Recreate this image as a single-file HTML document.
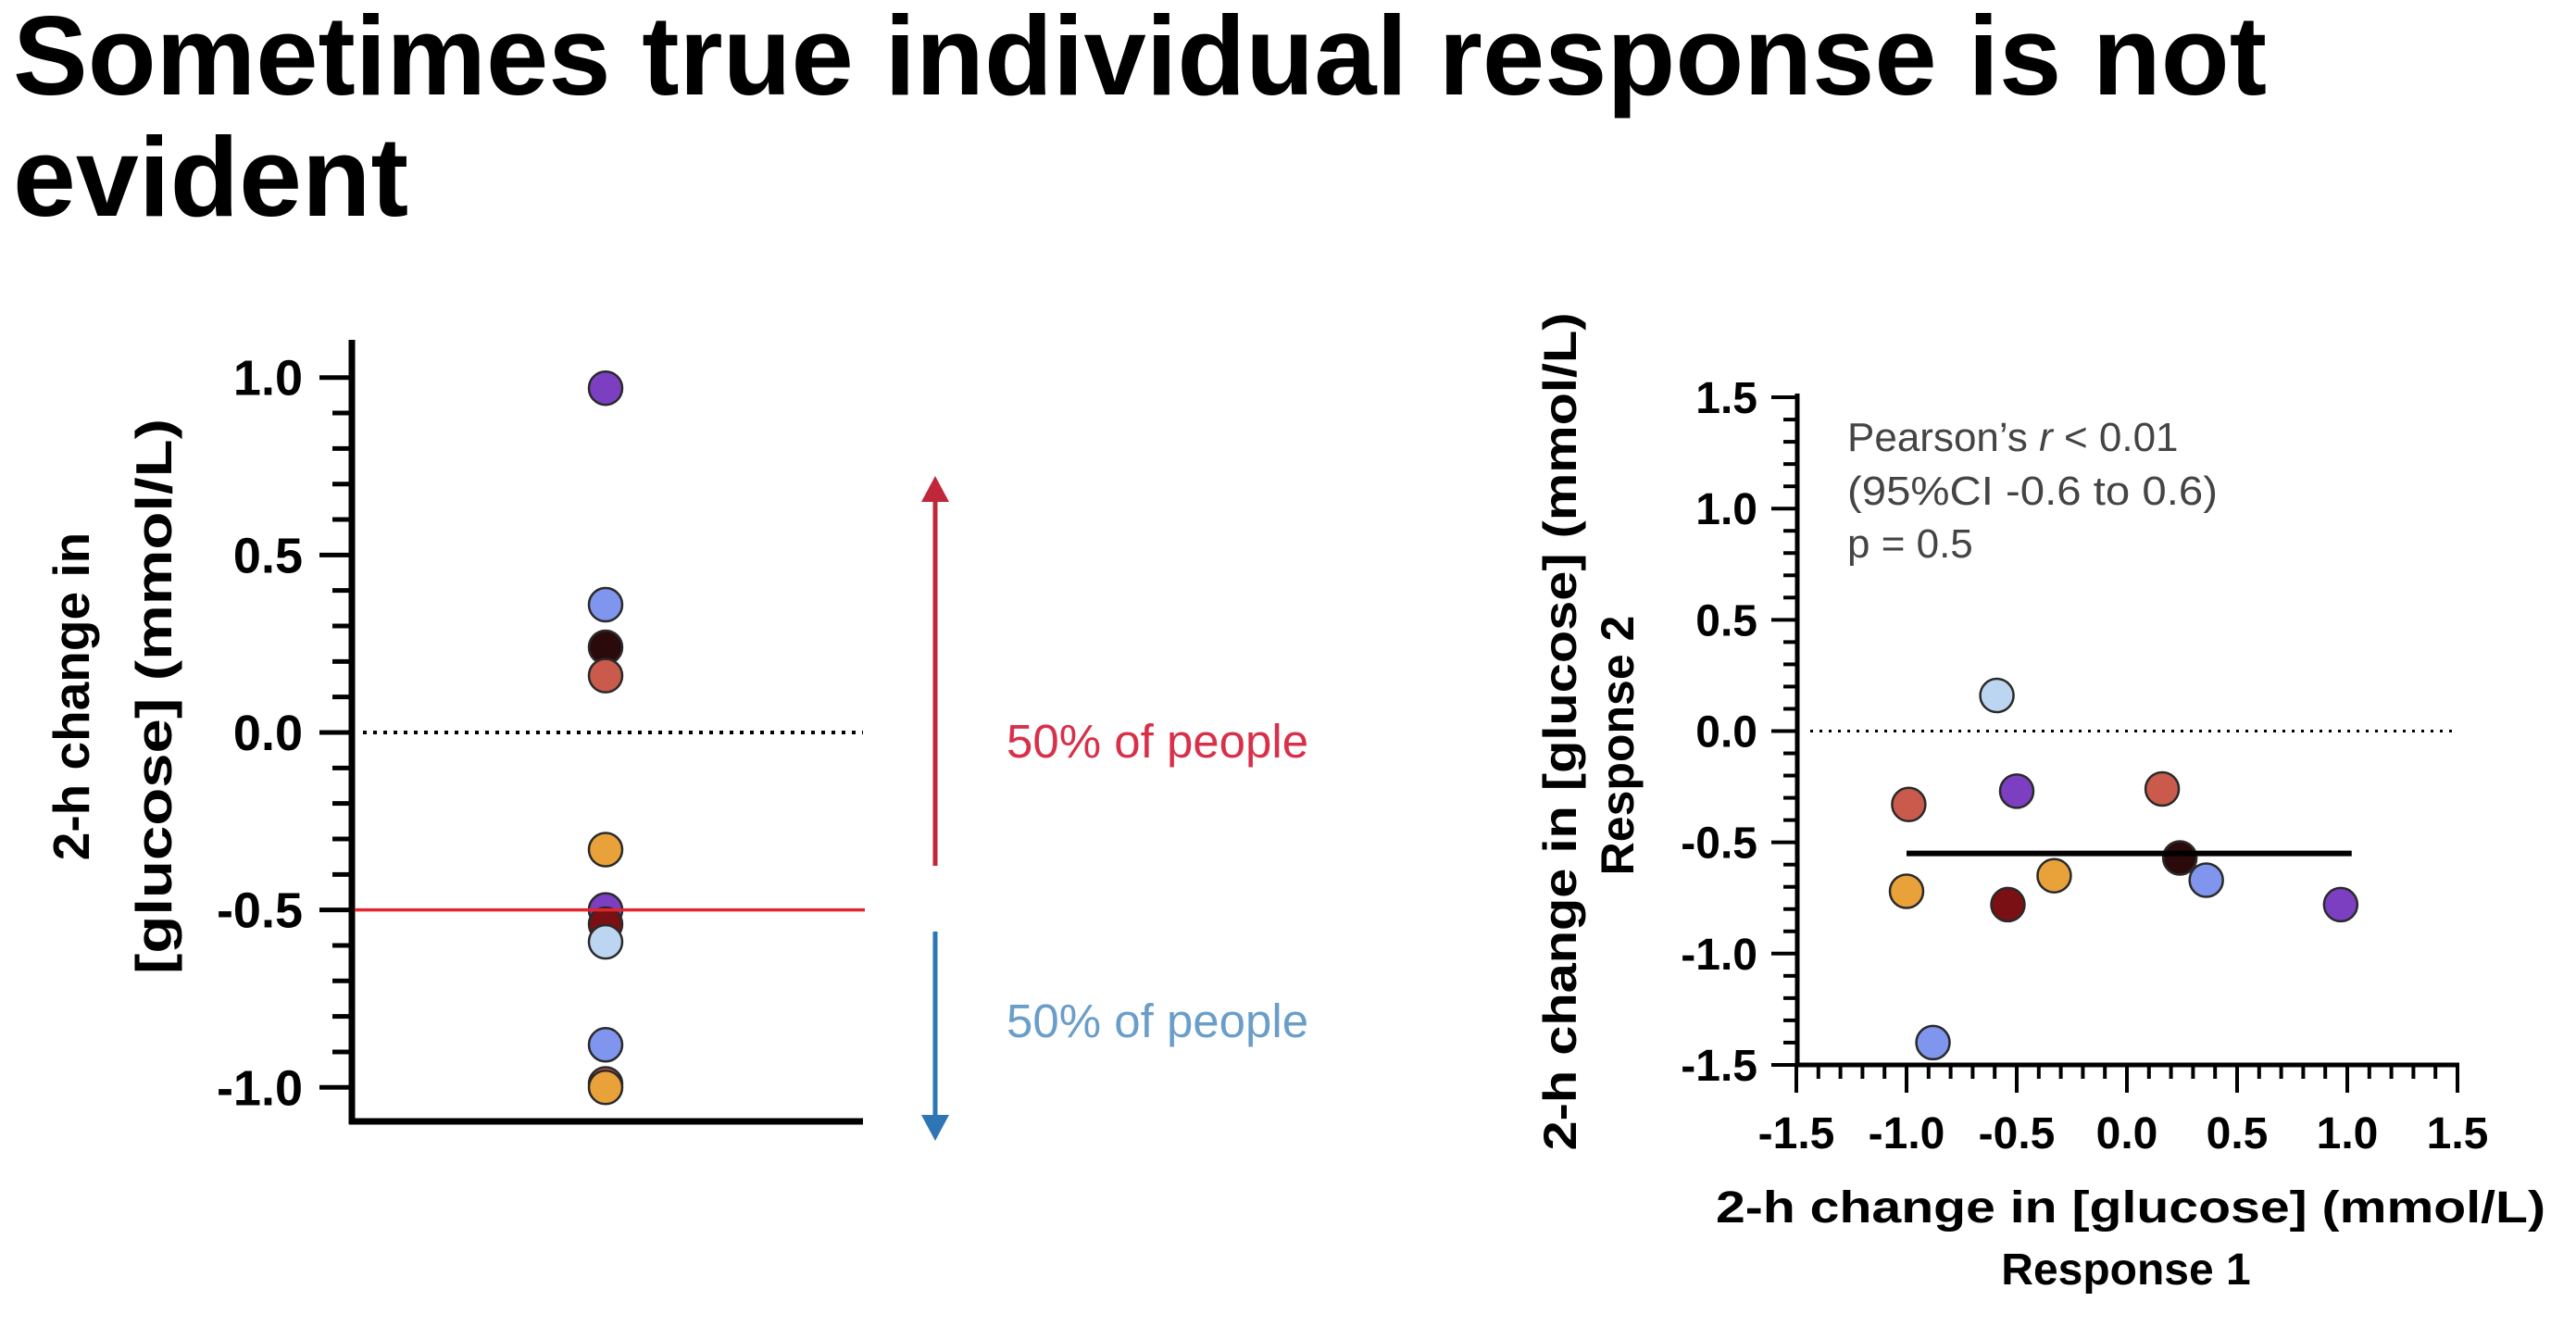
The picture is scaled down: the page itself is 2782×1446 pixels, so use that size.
<!DOCTYPE html>
<html><head><meta charset="utf-8"><style>
html,body{margin:0;padding:0;background:#fff;}
svg{display:block;font-family:"Liberation Sans",Arial,sans-serif;}
</style></head><body>
<svg id="root" width="2782" height="1446" viewBox="0 0 2782 1446" xmlns="http://www.w3.org/2000/svg">
<text x="14" y="102" font-size="122" font-weight="bold" fill="#000" textLength="2434" lengthAdjust="spacingAndGlyphs">Sometimes true individual response is not</text>
<text x="14" y="233" font-size="122" font-weight="bold" fill="#000">evident</text>

<g id="left"></g>
<g id="right"></g>

<g>
<line x1="1010" y1="935" x2="1010" y2="540" stroke="#c0273a" stroke-width="5"/>
<polygon points="1010,514 995,542 1025,542" fill="#c0273a"/>
<text x="1087" y="818" font-size="51" fill="#d9304a">50% of people</text>
</g>
<g>
<line x1="1010" y1="1006" x2="1010" y2="1208" stroke="#2e75b6" stroke-width="5"/>
<polygon points="1010,1232 995,1204 1025,1204" fill="#2e75b6"/>
<text x="1087" y="1120" font-size="51" fill="#6a9ec9">50% of people</text>
</g>
</svg>
<script>
const participants = ["P1","P2","P3","P4","P5","P6","P7","P8","P9","P10","P11"];
const response1 = [0.97, 0.36, 0.24, 0.16, -0.33, -0.50, -0.54, -0.59, -0.88, -0.99, -1.00];
const response2 = [-0.78, -0.67, -0.57, -0.26, -0.65, -0.27, -0.78, 0.16, -1.40, -0.33, -0.72];
const colors = ["#7d3fc2","#7f95ee","#2b0a0c","#c95a4c","#e9a23a","#7d3fc2","#7a1014","#bcd6f2","#7f95ee","#c95a4c","#e9a23a"];
const leftTicks = [1.0, 0.5, 0.0, -0.5, -1.0];
const leftTickLabels = ["1.0","0.5","0.0","-0.5","-1.0"];
const rightTicks = [-1.5,-1.0,-0.5,0.0,0.5,1.0,1.5];
const rightTickLabels = ["-1.5","-1.0","-0.5","0.0","0.5","1.0","1.5"];
const medianValue = -0.5;
const fitY = -0.55;
const fitXRange = [-1.0, 1.02];

const NS = "http://www.w3.org/2000/svg";
function mk(parent, tag, attrs, text){
  const e = document.createElementNS(NS, tag);
  for (const k in attrs) e.setAttribute(k, attrs[k]);
  if (text !== undefined) e.textContent = text;
  parent.appendChild(e);
  return e;
}

// ---------- Left dot plot ----------
const L = document.getElementById('left');
const ly = v => 791 - 383.3 * v;
const lAxisX = 380, lX0 = 380, lX1 = 932, lDotX = 654;
let e;
e = mk(L,'line',{x1:lAxisX,y1:367,x2:lAxisX,y2:1214,stroke:'#000','stroke-width':7});


e = mk(L,'line',{x1:lX0-3,y1:1211,x2:lX1,y2:1211,stroke:'#000','stroke-width':7});


for (let i = 10; i >= -10; i--) {
  const v = i / 10;
  const major = (i % 5 === 0);
  e = mk(L,'line',{x1:lAxisX-(major?35:21),y1:ly(v),x2:lAxisX,y2:ly(v),stroke:'#000','stroke-width':5});
  
  
}
leftTicks.forEach((v,i)=>{
  e = mk(L,'text',{x:327,y:ly(v)+19,'font-size':54,'font-weight':'bold','text-anchor':'end',fill:'#000'}, leftTickLabels[i]);
  
  
});
e = mk(L,'line',{x1:392,y1:ly(0),x2:lX1,y2:ly(0),stroke:'#000','stroke-width':4,'stroke-dasharray':'4 7'});


response1.forEach((v,i)=>{
  e = mk(L,'circle',{cx:lDotX,cy:ly(v),r:18,fill:colors[i],stroke:'#2a2a2a','stroke-width':2.5});
  
  
});
e = mk(L,'line',{x1:lX0+3,y1:ly(medianValue),x2:lX1+2,y2:ly(medianValue),stroke:'#e0262e','stroke-width':3.5});


e = mk(L,'text',{transform:'translate(96,752) rotate(-90)','font-size':55,'font-weight':'bold','text-anchor':'middle',fill:'#000'},'2-h change in');


e = mk(L,'text',{transform:'translate(185,752) rotate(-90)','font-size':55,'font-weight':'bold','text-anchor':'middle',fill:'#000',textLength:600,lengthAdjust:'spacingAndGlyphs'},'[glucose] (mmol/L)');



// ---------- Right scatter ----------
const R = document.getElementById('right');
const rx = v => 2297 + 238 * v;
const ry = v => 789.5 - 240.3 * v;
const rAxisX = 1941, rAxisY = 1150;
e = mk(R,'line',{x1:rAxisX,y1:425,x2:rAxisX,y2:rAxisY+2,stroke:'#000','stroke-width':5});


e = mk(R,'line',{x1:rAxisX-2,y1:rAxisY,x2:rx(1.5)+2,y2:rAxisY,stroke:'#000','stroke-width':5});


for (let i = -15; i <= 15; i++) {
  const v = i / 10;
  const major = (i % 5 === 0);
  e = mk(R,'line',{x1:rAxisX-(major?28:15),y1:ry(v),x2:rAxisX,y2:ry(v),stroke:'#000','stroke-width':4});
  
  
  e = mk(R,'line',{x1:rx(v),y1:rAxisY,x2:rx(v),y2:rAxisY+(major?30:15),stroke:'#000','stroke-width':4});
  
  
}
rightTicks.forEach((v,i)=>{
  e = mk(R,'text',{x:1898,y:ry(v)+17,'font-size':48,'font-weight':'bold','text-anchor':'end',fill:'#000'}, rightTickLabels[i]);
  
  
  e = mk(R,'text',{x:rx(v),y:1240,'font-size':48,'font-weight':'bold','text-anchor':'middle',fill:'#000'}, rightTickLabels[i]);
  
  
});
e = mk(R,'line',{x1:1955,y1:ry(0),x2:rx(1.5)-5,y2:ry(0),stroke:'#000','stroke-width':3,'stroke-dasharray':'3 7'});


response1.forEach((v,i)=>{
  e = mk(R,'circle',{cx:rx(v),cy:ry(response2[i]),r:18,fill:colors[i],stroke:'#2a2a2a','stroke-width':2.5});
  
  
});
e = mk(R,'line',{x1:rx(fitXRange[0]),y1:ry(fitY),x2:rx(fitXRange[1]),y2:ry(fitY),stroke:'#000','stroke-width':6});


const stats = mk(R,'g',{fill:'#444','font-size':44});


e = mk(stats,'text',{x:1995,y:487});
e.innerHTML = 'Pearson\u2019s <tspan font-style="italic">r</tspan> &lt; 0.01';


e = mk(stats,'text',{x:1995,y:545,textLength:400,lengthAdjust:'spacingAndGlyphs'},'(95%CI -0.6 to 0.6)');


e = mk(stats,'text',{x:1995,y:602},'p = 0.5');


e = mk(R,'text',{x:2301,y:1320,'font-size':48,'font-weight':'bold','text-anchor':'middle',fill:'#000',textLength:896,lengthAdjust:'spacingAndGlyphs'},'2-h change in [glucose] (mmol/L)');


e = mk(R,'text',{x:2296,y:1387,'font-size':48,'font-weight':'bold','text-anchor':'middle',fill:'#000'},'Response 1');


e = mk(R,'text',{transform:'translate(1702,790) rotate(-90)','font-size':50,'font-weight':'bold','text-anchor':'middle',fill:'#000',textLength:905,lengthAdjust:'spacingAndGlyphs'},'2-h change in [glucose] (mmol/L)');


e = mk(R,'text',{transform:'translate(1764,805) rotate(-90)','font-size':50,'font-weight':'bold','text-anchor':'middle',fill:'#000'},'Response 2');


</script>
</body></html>
